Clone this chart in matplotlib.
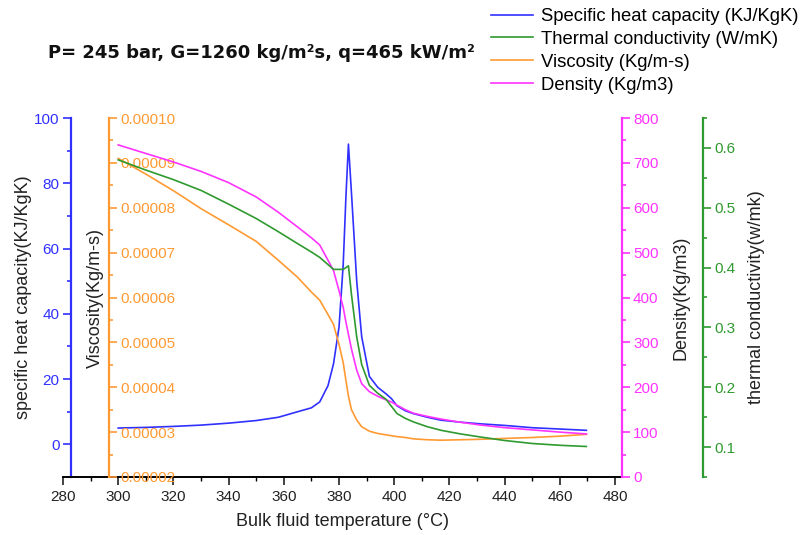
import matplotlib
matplotlib.use("Agg")
import matplotlib.pyplot as plt
from matplotlib.ticker import MultipleLocator, FormatStrFormatter

plt.rcParams['font.family'] = ['Liberation Sans', 'DejaVu Sans']

# Bulk fluid temperature (°C)
temperature = [300, 310, 320, 330, 340, 350, 358, 365, 370, 373, 376, 378, 380, 381.5,
               382.5, 383.4, 384.5, 386.4, 388.2, 391, 394, 397, 399, 401, 404, 407,
               412, 417, 424, 431, 440, 450, 460, 469.6]
# Specific heat capacity (KJ/KgK)
cp = [5.0, 5.2, 5.5, 5.9, 6.5, 7.3, 8.3, 10.0, 11.2, 13.0, 18.0, 24.7, 36.0, 55.0,
      76.0, 92.0, 77.0, 50.0, 33.0, 20.8, 17.5, 15.5, 14.0, 11.8, 10.3, 9.4,
      8.3, 7.4, 6.8, 6.3, 5.8, 5.1, 4.7, 4.3]
# Thermal conductivity (W/mK)
k = [0.580, 0.563, 0.547, 0.529, 0.506, 0.482, 0.460, 0.440, 0.426, 0.417, 0.405,
     0.397, 0.397, 0.397, 0.400, 0.403, 0.355, 0.284, 0.238, 0.203, 0.190, 0.180,
     0.168, 0.156, 0.148, 0.142, 0.134, 0.128, 0.122, 0.117, 0.111, 0.106, 0.103, 0.101]
# Viscosity (Kg/m-s)
visc = [9.10e-5, 8.75e-5, 8.38e-5, 7.98e-5, 7.62e-5, 7.25e-5, 6.83e-5, 6.45e-5,
        6.12e-5, 5.94e-5, 5.62e-5, 5.40e-5, 4.95e-5, 4.55e-5, 4.15e-5, 3.80e-5,
        3.50e-5, 3.27e-5, 3.12e-5, 3.02e-5, 2.97e-5, 2.94e-5, 2.92e-5, 2.90e-5,
        2.88e-5, 2.85e-5, 2.83e-5, 2.82e-5, 2.83e-5, 2.84e-5, 2.86e-5, 2.88e-5,
        2.91e-5, 2.95e-5]
# Density (Kg/m3)
rho = [740, 721, 702, 681, 656, 624, 590, 557, 533, 517, 483, 460, 415, 378, 345,
       318, 285, 238, 208, 190, 180, 172, 167, 160, 150, 142, 135, 129, 122, 116,
       110, 105, 100, 96]

BLUE = '#3030ff'
GREEN = '#2f9a2f'
ORANGE = '#ff9a33'
MAGENTA = '#ff33ff'
TEXT = '#222222'
TICK_FS = 11
LABEL_FS = 13

W, H = 807, 535
fig = plt.figure(figsize=(W / 100, H / 100), dpi=100)

left_px, right_px, top_px, bottom_px = 63, 622, 118, 477
ax = fig.add_axes([left_px / W, 1 - bottom_px / H,
                   (right_px - left_px) / W, (bottom_px - top_px) / H])
span = right_px - left_px


def style_y(axis, color, major, minor):
    axis.yaxis.set_major_locator(MultipleLocator(major))
    axis.yaxis.set_minor_locator(MultipleLocator(minor))
    axis.tick_params(axis='y', which='both', colors=color, labelsize=TICK_FS, width=1.2)
    axis.tick_params(axis='y', which='major', length=6, pad=2)
    axis.tick_params(axis='y', which='minor', length=3)


# --- specific heat capacity (main axes) ---
l1, = ax.plot(temperature, cp, color=BLUE, lw=1.2)
ax.set_xlim(280, 482.5)
ax.set_ylim(-10, 100)
for s in ['top', 'right']:
    ax.spines[s].set_visible(False)
ax.spines['left'].set_position(('data', 282.8))
ax.spines['left'].set_color(BLUE)
ax.spines['left'].set_linewidth(1.6)
ax.spines['bottom'].set_linewidth(1.4)
style_y(ax, BLUE, 20, 10)
ax.xaxis.set_major_locator(MultipleLocator(20))
ax.xaxis.set_minor_locator(MultipleLocator(10))
ax.tick_params(axis='x', which='major', length=6, width=1.2, labelsize=TICK_FS, colors=TEXT)
ax.tick_params(axis='x', which='minor', length=3, width=1.0)
ax.set_xlabel('Bulk fluid temperature (°C)', fontsize=LABEL_FS, color=TEXT)
ax.set_ylabel('specific heat capacity(KJ/KgK)', fontsize=LABEL_FS, color=TEXT)
ax.yaxis.set_label_coords((32 - left_px) / span, 0.5)
ax.xaxis.set_label_coords(0.5, -0.1)

# --- viscosity ---
ax_v = ax.twinx()
l3, = ax_v.plot(temperature, visc, color=ORANGE, lw=1.2)
ax_v.set_ylim(2e-5, 1e-4)
for s in ['top', 'left', 'bottom']:
    ax_v.spines[s].set_visible(False)
ax_v.spines['right'].set_position(('data', 296.7))
ax_v.spines['right'].set_color(ORANGE)
ax_v.spines['right'].set_linewidth(1.6)
style_y(ax_v, ORANGE, 1e-5, 5e-6)
ax_v.yaxis.set_major_formatter(FormatStrFormatter('%.5f'))
ax_v.set_ylabel('Viscosity(Kg/m-s)', fontsize=LABEL_FS, color=TEXT)
ax_v.yaxis.set_label_coords((87 - left_px) / span, 0.5)

# --- density ---
ax_d = ax.twinx()
l4, = ax_d.plot(temperature, rho, color=MAGENTA, lw=1.2)
ax_d.set_ylim(0, 800)
for s in ['top', 'left', 'bottom']:
    ax_d.spines[s].set_visible(False)
ax_d.spines['right'].set_color(MAGENTA)
ax_d.spines['right'].set_linewidth(1.6)
style_y(ax_d, MAGENTA, 100, 50)
ax_d.set_ylabel('Density(Kg/m3)', fontsize=LABEL_FS, color=TEXT)
ax_d.yaxis.set_label_coords((672 - left_px) / span, 0.5)

# --- thermal conductivity ---
ax_k = ax.twinx()
l2, = ax_k.plot(temperature, k, color=GREEN, lw=1.2)
ax_k.set_ylim(0.05, 0.65)
for s in ['top', 'left', 'bottom']:
    ax_k.spines[s].set_visible(False)
ax_k.spines['right'].set_position(('axes', (703 - left_px) / span))
ax_k.spines['right'].set_color(GREEN)
ax_k.spines['right'].set_linewidth(1.6)
style_y(ax_k, GREEN, 0.1, 0.05)
ax_k.yaxis.set_major_formatter(FormatStrFormatter('%.1f'))
ax_k.set_ylabel('thermal conductivity(w/mk)', fontsize=LABEL_FS, color=TEXT)
ax_k.yaxis.set_label_coords((748 - left_px) / span, 0.5)

# title and legend
fig.text(48 / W, 1 - 53 / H, 'P= 245 bar, G=1260 kg/m²s, q=465 kW/m²',
         fontsize=13, fontweight='bold', family='DejaVu Sans', va='center', ha='left',
         color='#111111')
fig.legend([l1, l2, l3, l4],
           ['Specific heat capacity (KJ/KgK)', 'Thermal conductivity (W/mK)',
            'Viscosity (Kg/m-s)', 'Density (Kg/m3)'],
           loc='upper left', bbox_to_anchor=(491 / W, 1 - 8 / H), frameon=False,
           fontsize=13.3, handlelength=2.3, handletextpad=0.4, labelspacing=0.32,
           borderpad=0, borderaxespad=0)

fig.savefig('out.png', dpi=100)
